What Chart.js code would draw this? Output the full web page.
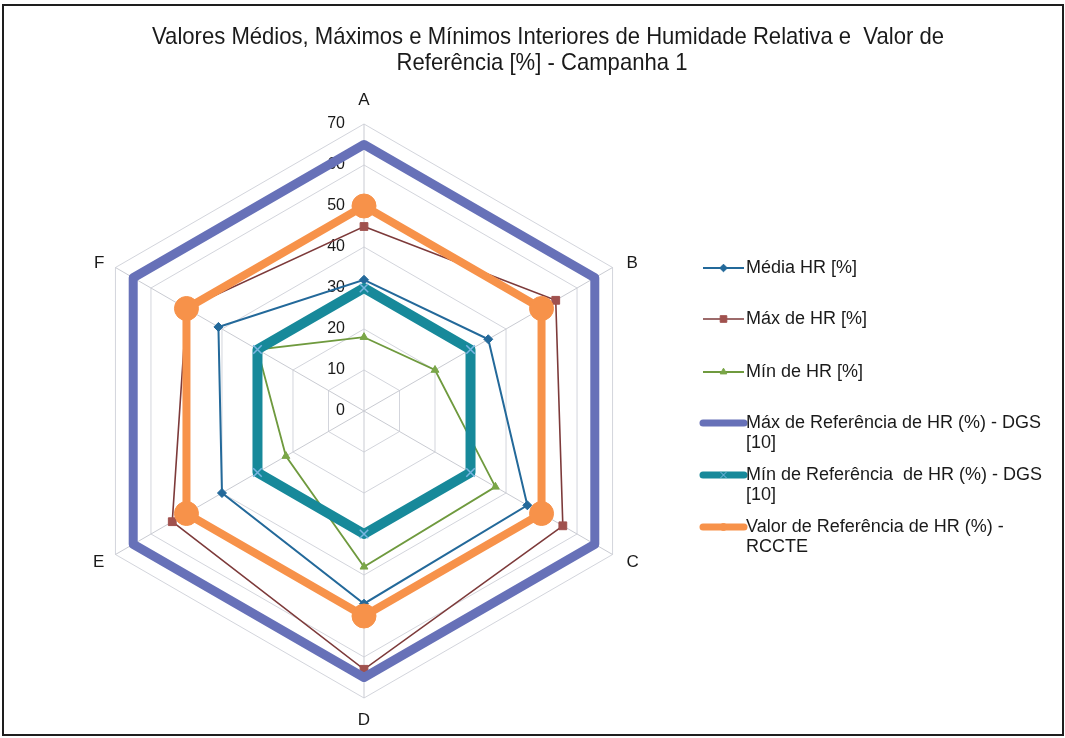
<!DOCTYPE html>
<html>
<head>
<meta charset="utf-8">
<script src="https://cdn.jsdelivr.net/npm/chart.js@4.4.1/dist/chart.umd.min.js"></script>
<style>
  html, body { margin: 0; padding: 0; background: #fff; overflow: hidden; }
  #wrap { position: relative; width: 1065px; height: 738px; }
</style>
</head>
<body>
<div id="wrap"><canvas id="c" width="1065" height="738"></canvas></div>
<script>
// Radar axes (rooms) and the relative humidity series, in %
const categories = ['A', 'B', 'C', 'D', 'E', 'F'];
const mediaHR   = [32, 35, 46, 47, 40, 41];
const maxHR     = [45, 54, 56, 63, 54, 50];
const minHR     = [18, 20, 37, 38, 22, 30];
const maxRefDGS = [65, 65, 65, 65, 65, 65];
const minRefDGS = [30, 30, 30, 30, 30, 30];
const refRCCTE  = [50, 50, 50, 50, 50, 50];
const tickValues = [0, 10, 20, 30, 40, 50, 60, 70];

const titleLines = [
  'Valores Médios, Máximos e Mínimos Interiores de Humidade Relativa e  Valor de',
  'Referência [%] - Campanha 1'
];
const seriesNames = [
  ['Média HR [%]'],
  ['Máx de HR [%]'],
  ['Mín de HR [%]'],
  ['Máx de Referência de HR (%) - DGS', '[10]'],
  ['Mín de Referência  de HR (%) - DGS', '[10]'],
  ['Valor de Referência de HR (%) -', 'RCCTE']
];

const SANS = "'Liberation Sans', Arial, sans-serif";

// per-series look: colour, line width, marker, and legend sample width
const styles = [
  { color: '#23699a', width: 2,   point: 'rectRot',  radius: 4.5, pointColor: '#23699a', legendWidth: 2 },
  { color: '#7d3a3a', width: 1.6, point: 'rect',     radius: 5.5, pointColor: '#a0514e', legendWidth: 1.6 },
  { color: '#6f9a3e', width: 1.8, point: 'triangle', radius: 4.5, pointColor: '#7aa648', legendWidth: 1.8 },
  { color: '#6771b8', width: 9,   point: 'circle',   radius: 0,   pointColor: '#6771b8', legendWidth: 7 },
  { color: '#17899a', width: 10,  point: 'crossRot', radius: 6,   pointColor: '#7ab6e2', legendWidth: 7 },
  { color: '#f7924a', width: 8,   point: 'circle',   radius: 12,  pointColor: '#f7924a', legendWidth: 7 }
];
const seriesData = [mediaHR, maxHR, minHR, maxRefDGS, minRefDGS, refRCCTE];

const datasets = seriesData.map((values, i) => {
  const s = styles[i];
  return {
    label: seriesNames[i].join(' '),
    data: values,
    borderColor: s.color,
    backgroundColor: 'transparent',
    borderWidth: s.width,
    borderJoinStyle: s.width > 4 ? 'round' : 'miter',
    fill: false,
    pointStyle: s.point,
    pointRadius: s.radius,
    pointHoverRadius: s.radius,
    pointBackgroundColor: s.pointColor,
    pointBorderColor: s.pointColor,
    pointBorderWidth: s.point === 'crossRot' ? 1.5 : 1,
    // later series sit on top of earlier ones
    order: seriesData.length - i
  };
});

// white page with a dark frame
const framePlugin = {
  id: 'frame',
  beforeDraw(chart) {
    const ctx = chart.ctx;
    ctx.save();
    ctx.fillStyle = '#ffffff';
    ctx.fillRect(0, 0, chart.width, chart.height);
    ctx.restore();
  },
  afterDraw(chart) {
    const ctx = chart.ctx;
    ctx.save();
    ctx.strokeStyle = '#1e1e1e';
    ctx.lineWidth = 2;
    ctx.strokeRect(3, 5, chart.width - 5, chart.height - 8);
    ctx.restore();
  }
};

// value labels beside the A axis, under the series lines
const tickLabelPlugin = {
  id: 'tickLabels',
  beforeDatasetsDraw(chart) {
    const scale = chart.scales.r;
    const ctx = chart.ctx;
    ctx.save();
    ctx.font = '16px ' + SANS;
    ctx.fillStyle = '#1a1a1a';
    ctx.textAlign = 'right';
    ctx.textBaseline = 'middle';
    tickValues.forEach(v => {
      const d = scale.getDistanceFromCenterForValue(v);
      ctx.fillText(String(v), scale.xCenter - 19, scale.yCenter - d);
    });
    ctx.restore();
  }
};

// category letters outside each spoke
const axisLabelPlugin = {
  id: 'axisLabels',
  afterDatasetsDraw(chart) {
    const scale = chart.scales.r;
    const ctx = chart.ctx;
    ctx.save();
    ctx.font = '17px ' + SANS;
    ctx.fillStyle = '#1a1a1a';
    ctx.textBaseline = 'middle';
    categories.forEach((lab, i) => {
      const p = scale.getPointPosition(i, scale.drawingArea);
      const dx = p.x - scale.xCenter;
      if (Math.abs(dx) < 1) {
        ctx.textAlign = 'center';
        const up = p.y < scale.yCenter;
        ctx.fillText(lab, p.x, up ? p.y - 24 : p.y + 22);
      } else {
        ctx.textAlign = dx > 0 ? 'left' : 'right';
        const yOff = p.y < scale.yCenter ? -4 : 8;
        ctx.fillText(lab, dx > 0 ? p.x + 14 : p.x - 11, p.y + yOff);
      }
    });
    ctx.restore();
  }
};

// two-line heading in a condensed face (horizontally compressed sans)
const headingPlugin = {
  id: 'heading',
  afterDraw(chart) {
    const ctx = chart.ctx;
    const sx = 0.92;
    ctx.save();
    ctx.font = '24px ' + SANS;
    ctx.fillStyle = '#1a1a1a';
    ctx.textAlign = 'center';
    ctx.textBaseline = 'middle';
    ctx.scale(sx, 1);
    ctx.fillText(titleLines[0], 548 / sx, 37);
    ctx.fillText(titleLines[1], 542 / sx, 63);
    ctx.restore();
  }
};

// legend on the right: line sample with marker, wrapped names
const legendPlugin = {
  id: 'sideLegend',
  afterDraw(chart) {
    const ctx = chart.ctx;
    const x0 = 703, x1 = 744, tx = 746;
    const rowY = [268, 319, 372, 423, 475, 527];
    ctx.save();
    ctx.font = '18px ' + SANS;
    ctx.textBaseline = 'middle';
    ctx.textAlign = 'left';
    chart.data.datasets.forEach((ds, i) => {
      const s = styles[i];
      const y = rowY[i];
      ctx.strokeStyle = s.color;
      ctx.lineWidth = s.legendWidth;
      ctx.lineCap = s.legendWidth > 4 ? 'round' : 'butt';
      ctx.beginPath();
      ctx.moveTo(x0, y);
      ctx.lineTo(x1, y);
      ctx.stroke();
      const r = s.legendWidth > 4 ? (s.point === 'crossRot' ? 4 : (s.radius > 0 ? 3.5 : 0)) : s.radius * 0.85;
      if (r > 0) {
        ctx.fillStyle = s.pointColor;
        ctx.strokeStyle = s.pointColor;
        ctx.lineWidth = 1;
        Chart.helpers.drawPoint(ctx, { pointStyle: s.point, rotation: 0, radius: r, borderWidth: 1 }, (x0 + x1) / 2, y);
      }
      ctx.fillStyle = '#1a1a1a';
      seriesNames[i].forEach((line, k) => ctx.fillText(line, tx, y + k * 20));
    });
    ctx.restore();
  }
};

new Chart(document.getElementById('c'), {
  type: 'radar',
  data: { labels: categories, datasets },
  options: {
    responsive: false,
    animation: false,
    devicePixelRatio: 1,
    layout: { padding: { left: 76, right: 413, top: 124, bottom: 39 } },
    elements: { line: { tension: 0 } },
    plugins: {
      legend: { display: false },
      title: { display: false },
      tooltip: { enabled: false }
    },
    scales: {
      r: {
        min: tickValues[0],
        max: tickValues[tickValues.length - 1],
        beginAtZero: true,
        ticks: { stepSize: 10, display: false },
        grid: { color: '#d3d5dc', lineWidth: 1 },
        angleLines: { color: '#c9cbd2', lineWidth: 1 },
        pointLabels: { display: false }
      }
    }
  },
  plugins: [framePlugin, tickLabelPlugin, axisLabelPlugin, headingPlugin, legendPlugin]
});
</script>
</body>
</html>
